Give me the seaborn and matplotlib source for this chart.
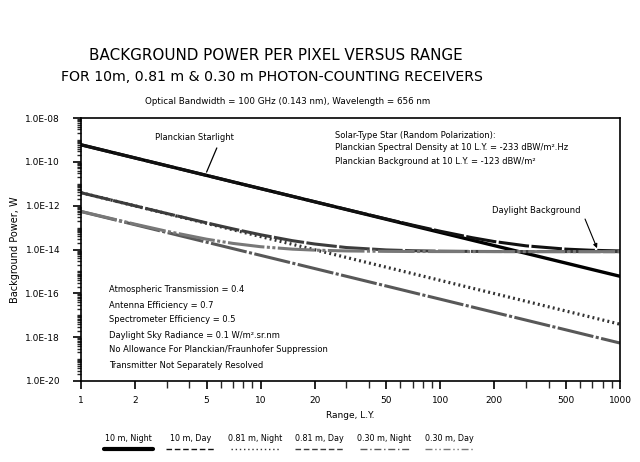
import numpy as np
import pandas as pd
import matplotlib
matplotlib.use("Agg")
import matplotlib.pyplot as plt
import seaborn as sns
from matplotlib.offsetbox import VPacker
from matplotlib.lines import Line2D
from matplotlib.ticker import FixedLocator, LogLocator, NullFormatter

# ---- data ----
range_ly = [1, 2, 3, 5, 7, 10, 15, 20, 30, 50, 70, 100, 150, 200, 300, 500, 700, 1000]
night_10m = [6.0e-10, 1.5e-10, 6.67e-11, 2.4e-11, 1.22e-11, 6.0e-12, 2.67e-12, 1.5e-12,
             6.67e-13, 2.4e-13, 1.22e-13, 6.0e-14, 2.67e-14, 1.5e-14, 6.67e-15, 2.4e-15,
             1.22e-15, 6.0e-16]
day_10m = [6.0e-10, 1.5e-10, 6.67e-11, 2.4e-11, 1.22e-11, 6.0e-12, 2.68e-12, 1.51e-12,
           6.75e-13, 2.48e-13, 1.30e-13, 6.8e-14, 3.47e-14, 2.3e-14, 1.47e-14, 1.04e-14,
           9.2e-15, 8.6e-15]
night_081 = [3.9e-12, 9.75e-13, 4.33e-13, 1.56e-13, 7.96e-14, 3.9e-14, 1.73e-14, 9.75e-15,
             4.33e-15, 1.56e-15, 7.96e-16, 3.9e-16, 1.73e-16, 9.75e-17, 4.33e-17, 1.56e-17,
             7.96e-18, 3.9e-18]
day_081 = [3.9e-12, 9.83e-13, 4.41e-13, 1.64e-13, 8.76e-14, 4.7e-14, 2.53e-14, 1.78e-14,
           1.23e-14, 9.56e-15, 8.8e-15, 8.39e-15, 8.17e-15, 8.1e-15, 8.04e-15, 8.02e-15,
           8.01e-15, 8.0e-15]
night_030 = [5.4e-13, 1.35e-13, 6.0e-14, 2.16e-14, 1.1e-14, 5.4e-15, 2.4e-15, 1.35e-15,
             6.0e-16, 2.16e-16, 1.1e-16, 5.4e-17, 2.4e-17, 1.35e-17, 6.0e-18, 2.16e-18,
             1.1e-18, 5.4e-19]
day_030 = [5.48e-13, 1.43e-13, 6.8e-14, 2.96e-14, 1.9e-14, 1.34e-14, 1.04e-14, 9.35e-15,
           8.6e-15, 8.22e-15, 8.11e-15, 8.05e-15, 8.02e-15, 8.01e-15, 8.0e-15, 8.0e-15,
           8.0e-15, 8.0e-15]

series_names = ["10 m, Night", "10 m, Day", "0.81 m, Night", "0.81 m, Day",
                "0.30 m, Night", "0.30 m, Day"]
series_values = [night_10m, day_10m, night_081, day_081, night_030, day_030]

x_ticks = [1, 2, 5, 10, 20, 50, 100, 200, 500, 1000]
x_ticklabels = ["1", "2", "5", "10", "20", "50", "100", "200", "500", "1000"]
y_ticks = [1e-20, 1e-18, 1e-16, 1e-14, 1e-12, 1e-10, 1e-8]
y_ticklabels = ["1.0E-20", "1.0E-18", "1.0E-16", "1.0E-14", "1.0E-12", "1.0E-10", "1.0E-08"]

df = pd.DataFrame({
    "Range": np.tile(range_ly, len(series_names)),
    "Power": np.concatenate(series_values),
    "Series": np.repeat(series_names, len(range_ly)),
})

sns.set_theme(style="white")
plt.rcParams["font.family"] = ["DejaVu Sans"]
plt.rcParams["text.color"] = "black"
plt.rcParams["axes.labelcolor"] = "black"

fig = plt.figure(figsize=(6.4, 4.62), dpi=100)
ax = fig.add_axes([81 / 640, 1 - 381 / 462, (620 - 81) / 640, (381 - 118) / 462])

styles = {
    "10 m, Night": dict(color="#000000", ls="-", lw=2.4),
    "10 m, Day": dict(color="#111111", ls=(0, (10, 0.8)), lw=2.2),
    "0.81 m, Night": dict(color="#333333", ls=(0, (0.6, 1.0)), lw=2.3),
    "0.81 m, Day": dict(color="#3c3c3c", ls=(0, (10, 0.8)), lw=2.2),
    "0.30 m, Night": dict(color="#585858", ls=(0, (12, 0.8, 1, 0.8)), lw=2.2),
    "0.30 m, Day": dict(color="#787878", ls=(0, (12, 0.8, 1, 0.8, 1, 0.8)), lw=2.2),
}
legend_ls = {
    "10 m, Night": "-",
    "10 m, Day": (0, (4, 2)),
    "0.81 m, Night": (0, (1, 2)),
    "0.81 m, Day": (0, (4, 2)),
    "0.30 m, Night": (0, (5, 2, 1, 2)),
    "0.30 m, Day": (0, (5, 2, 1, 2, 1, 2)),
}

for name in series_names:
    sub = df[df["Series"] == name]
    st = styles[name]
    sns.lineplot(data=sub, x="Range", y="Power", ax=ax, color=st["color"],
                 linestyle=st["ls"], linewidth=st["lw"], label=name, legend=False,
                 estimator=None, sort=False)

ax.set_xscale("log")
ax.set_yscale("log")
ax.set_xlim(1, 1000)
ax.set_ylim(1e-20, 1e-8)

ax.xaxis.set_major_locator(FixedLocator(x_ticks))
ax.set_xticklabels(x_ticklabels)
ax.xaxis.set_minor_locator(LogLocator(base=10, subs=np.arange(2, 10)))
ax.xaxis.set_minor_formatter(NullFormatter())
ax.yaxis.set_major_locator(FixedLocator(y_ticks))
ax.set_yticklabels(y_ticklabels)
ax.yaxis.set_minor_locator(LogLocator(base=10, subs=np.arange(1, 10), numticks=30))
ax.yaxis.set_minor_formatter(NullFormatter())

ax.tick_params(axis="both", which="major", direction="out", length=6, width=1.2,
               labelsize=6.5, colors="black", bottom=True, left=True)
ax.tick_params(axis="x", which="major", pad=5)
ax.tick_params(axis="y", which="major", pad=9)
ax.tick_params(axis="x", which="minor", direction="out", length=5, width=1, bottom=True)
ax.tick_params(axis="y", which="minor", direction="out", length=3, width=1, left=True)
for sp in ax.spines.values():
    sp.set_color("black")
    sp.set_linewidth(1.2)

ax.set_xlabel("Range, L.Y.", fontsize=6.5, labelpad=4)
ax.set_ylabel("Background Power, W", fontsize=7, labelpad=4)
ax.grid(False)

# titles
fig.text(276 / 640, 1 - 55 / 462, "BACKGROUND POWER PER PIXEL VERSUS RANGE",
         ha="center", va="center", fontsize=10.9, color="black")
fig.text(272 / 640, 1 - 77 / 462, "FOR 10m, 0.81 m & 0.30 m PHOTON-COUNTING RECEIVERS",
         ha="center", va="center", fontsize=10.2, color="black")
fig.text(288 / 640, 1 - 101 / 462,
         "Optical Bandwidth = 100 GHz (0.143 nm), Wavelength = 656 nm",
         ha="center", va="center", fontsize=6.3, color="black")

# annotations
fs = 6.0
ax.text(2.58, 1.3e-9, "Planckian Starlight", fontsize=fs, ha="left", va="center")
ax.annotate("", xy=(5.0, 3.4e-11), xytext=(5.7, 4.3e-10),
            arrowprops=dict(arrowstyle="-", color="black", lw=0.9,
                            shrinkA=0, shrinkB=0))
ax.text(25.8, 1.67e-9, "Solar-Type Star (Random Polarization):", fontsize=fs, va="center")
ax.text(25.8, 4.3e-10, "Planckian Spectral Density at 10 L.Y. = -233 dBW/m\u00b2.Hz",
        fontsize=fs, va="center")
ax.text(25.8, 1.0e-10, "Planckian Background at 10 L.Y. = -123 dBW/m\u00b2",
        fontsize=fs, va="center")
ax.text(194.5, 6.3e-13, "Daylight Background", fontsize=fs, ha="left", va="center")
ax.annotate("", xy=(745, 1.15e-14), xytext=(639, 2.45e-13),
            arrowprops=dict(arrowstyle="-|>", color="black", lw=0.8, mutation_scale=6,
                            shrinkA=0, shrinkB=0))

notes = ["Atmospheric Transmission = 0.4",
         "Antenna Efficiency = 0.7",
         "Spectrometer Efficiency = 0.5",
         "Daylight Sky Radiance = 0.1 W/m\u00b2.sr.nm",
         "No Allowance For Planckian/Fraunhofer Suppression",
         "Transmitter Not Separately Resolved"]
for i, t in enumerate(notes):
    yy = 1 - (290 + 15 * i) / 462
    fig.text(109 / 640, yy, t, fontsize=fs, va="center", ha="left")

# legend: labels above short line samples
leg_handles = []
for name in series_names:
    st = styles[name]
    leg_handles.append(Line2D([], [], color=st["color"], linestyle=legend_ls[name],
                              linewidth=3.0 if name == "10 m, Night" else 1.0))
leg = fig.legend(leg_handles, series_names, loc="center", ncol=6,
                 bbox_to_anchor=(289 / 640, 1 - 443 / 462), frameon=False,
                 fontsize=5.8, markerfirst=False, handlelength=6.0,
                 columnspacing=1.65, handletextpad=0.4, handleheight=0.6)
for col in leg._legend_handle_box.get_children():
    for item in col.get_children():
        item.__class__ = VPacker
        item.align = "center"

fig.savefig("out.png", dpi=100, facecolor="white")
